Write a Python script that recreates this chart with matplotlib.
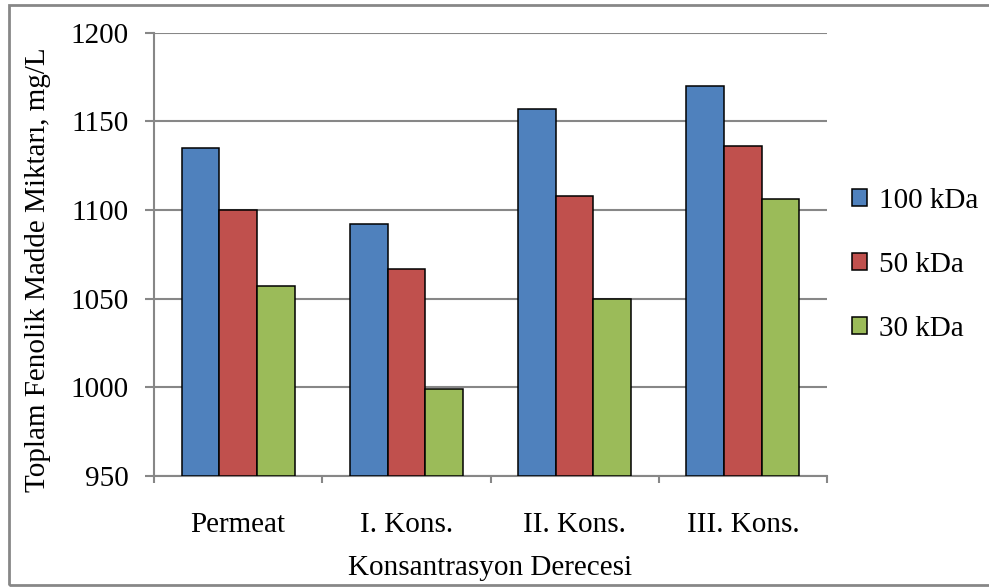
import numpy as np
import matplotlib
matplotlib.use("Agg")
import matplotlib.pyplot as plt
from matplotlib.patches import Patch, Rectangle

# kategoriler ve seri değerleri (mg/L)
kategoriler = ["Permeat", "I. Kons.", "II. Kons.", "III. Kons."]
seriler = ["100 kDa", "50 kDa", "30 kDa"]
deger_100 = [1135, 1092, 1157, 1170]
deger_50 = [1100, 1067, 1108, 1136]
deger_30 = [1057, 999, 1050, 1106]
y_tikler = [950, 1000, 1050, 1100, 1150, 1200]

renkler = ["#4F81BD", "#C0504D", "#9BBB59"]
gri = "#878787"
yazi = 21

plt.rcParams["font.family"] = ["Liberation Serif", "DejaVu Serif"]

W, H = 989, 587
fig = plt.figure(figsize=(W / 100, H / 100), dpi=100)
ax = fig.add_axes([154 / W, 1 - 476 / H, (827 - 154) / W, (476 - 32.7) / H])

x = np.arange(len(kategoriler))
genislik = 0.224
for i, (vals, renk) in enumerate(zip([deger_100, deger_50, deger_30], renkler)):
    ax.bar(x + (i - 1) * genislik, np.array(vals) - 950, bottom=950,
           width=genislik, color=renk, edgecolor="black", linewidth=1.1,
           zorder=3)

ax.set_xlim(-0.5, len(kategoriler) - 0.5)
ax.set_ylim(950, 1200)
ax.set_yticks(y_tikler)
ax.yaxis.grid(True, color=gri, linewidth=1.5, zorder=0)

# kategori etiketleri ortada, tik işaretleri sınırlarda
ax.set_xticks(x)
ax.set_xticklabels(kategoriler, fontsize=yazi)
ax.set_xticks(np.arange(-0.5, len(kategoriler)), minor=True)
ax.tick_params(axis="x", which="major", length=0, pad=26)
ax.tick_params(axis="x", which="minor", length=5, width=1.5, color=gri)
ax.tick_params(axis="y", length=6.5, width=1.5, color=gri, pad=12,
               labelsize=yazi)

for s in ["top", "right"]:
    ax.spines[s].set_visible(False)
for s in ["left", "bottom"]:
    ax.spines[s].set_color(gri)
    ax.spines[s].set_linewidth(1.5)

fig.text(38 / W, 1 - 270 / H, "Toplam Fenolik Madde Miktarı, mg/L",
         rotation=90, ha="center", va="center", fontsize=yazi)
fig.text(490 / W, 1 - 568 / H, "Konsantrasyon Derecesi",
         ha="center", va="center", fontsize=yazi)

tutamaclar = [Patch(facecolor=r, edgecolor="black", linewidth=1.1)
              for r in renkler]
fig.legend(tutamaclar, seriler, loc="center left",
           bbox_to_anchor=(852 / W, 1 - 265 / H), frameon=False,
           fontsize=yazi, handlelength=0.52, handleheight=0.52,
           handletextpad=0.4, labelspacing=1.3, borderpad=0,
           borderaxespad=0)

# grafik alanı çerçevesi
fig.patches.append(Rectangle((9 / W, 1 - 585 / H), 1.2, (585 - 5) / H,
                             transform=fig.transFigure, fill=False,
                             edgecolor=gri, linewidth=2))

fig.savefig("out.png", dpi=100)
